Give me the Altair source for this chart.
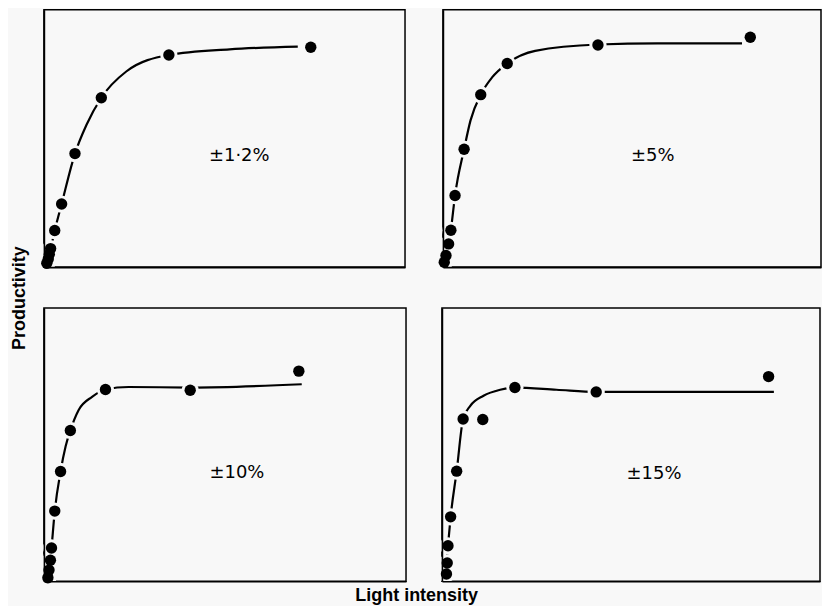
import altair as alt
import pandas as pd

BG = "#f8f8f8"

labels = ["±1·2%", "±5%", "±10%", "±15%"]
label_x = [54.1, 55.5, 53.3, 56.1]
label_y = [43.0, 43.2, 39.7, 39.4]

# measured points (light intensity, productivity), arbitrary 0-100 units
p1_x = [73.9, 34.6, 15.9, 8.6, 4.9, 3.0, 1.85, 1.5, 1.2, 0.8]
p1_y = [85.4, 82.4, 65.8, 44.1, 24.5, 14.2, 7.2, 5.0, 3.1, 1.5]
c1_x = [1.2, 3.0, 4.9, 8.6, 11.8, 15.9, 22.8, 34.6, 51.4, 70.3]
c1_y = [2.3, 14.2, 24.5, 44.1, 55.3, 65.8, 76.0, 82.4, 84.6, 85.7]

p2_x = [81.3, 41.0, 17.0, 10.0, 5.6, 3.2, 2.1, 1.5, 0.8, 0.35]
p2_y = [89.3, 86.3, 79.1, 67.0, 45.8, 27.8, 14.3, 9.0, 4.5, 1.9]
c2_x = [0.8, 2.1, 3.2, 5.6, 7.3, 10.0, 13.0, 17.0, 24.4, 41.0, 56.8, 79.1]
c2_y = [1.9, 14.3, 27.8, 45.8, 57.0, 67.0, 73.7, 79.1, 84.0, 86.5, 86.9, 86.9]

p3_x = [70.4, 40.4, 17.0, 7.3, 4.6, 3.0, 2.1, 1.8, 1.4, 1.1]
p3_y = [76.9, 69.9, 70.2, 55.2, 40.2, 25.7, 12.2, 7.7, 4.1, 1.3]
c3_x = [1.4, 2.1, 3.0, 4.6, 6.0, 7.3, 9.6, 13.3, 17.0, 23.4, 40.4, 71.2]
c3_y = [2.3, 12.2, 25.7, 40.2, 49.4, 55.2, 62.7, 67.5, 70.2, 71.1, 70.9, 72.1]

p4_x = [86.4, 40.8, 19.3, 10.8, 5.6, 3.9, 2.3, 1.6, 1.4, 1.2]
p4_y = [74.9, 69.3, 70.9, 59.2, 59.4, 40.3, 23.6, 13.0, 6.7, 2.7]
c4_x = [1.0, 1.6, 2.3, 3.9, 5.6, 7.5, 11.0, 15.4, 19.3, 30.3, 40.8, 87.8]
c4_y = [3.6, 13.0, 23.6, 40.3, 59.4, 64.2, 67.9, 70.1, 70.9, 70.1, 69.3, 69.3]


def panel(px, py, cx, cy, label, lx, ly, w, h):
    pts = pd.DataFrame({"x": px, "y": py})
    crv = pd.DataFrame({"x": cx, "y": cy})
    lab = pd.DataFrame({"x": [lx], "y": [ly], "t": [label]})
    xs = alt.Scale(domain=[0, 100], nice=False, zero=False)
    ys = alt.Scale(domain=[0, 100], nice=False, zero=False)
    ax = alt.Axis(labels=False, ticks=False, title=None, grid=False,
                  domainColor="black", domainWidth=1.6, zindex=1)
    X = alt.X("x:Q", scale=xs, axis=ax)
    Y = alt.Y("y:Q", scale=ys, axis=ax)
    line = alt.Chart(crv).mark_line(color="black", strokeWidth=2.2,
                                    interpolate="monotone").encode(x=X, y=Y)
    halo = alt.Chart(pts).mark_circle(color=BG, opacity=1, size=300).encode(x=X, y=Y)
    dots = alt.Chart(pts).mark_circle(color="black", opacity=1, size=130).encode(x=X, y=Y)
    text = alt.Chart(lab).mark_text(font="DejaVu Sans", fontSize=18, color="black",
                                    align="center", baseline="middle").encode(
        x=X, y=Y, text="t:N")
    return alt.layer(line, halo, dots, text).properties(width=w, height=h)


c1 = panel(p1_x, p1_y, c1_x, c1_y, labels[0], label_x[0], label_y[0], 362, 258)
c2 = panel(p2_x, p2_y, c2_x, c2_y, labels[1], label_x[1], label_y[1], 379, 258)
c3 = panel(p3_x, p3_y, c3_x, c3_y, labels[2], label_x[2], label_y[2], 363, 274)
c4 = panel(p4_x, p4_y, c4_x, c4_y, labels[3], label_x[3], label_y[3], 379, 274)

grid = alt.vconcat(
    alt.hconcat(c1, c2, spacing=28),
    alt.hconcat(c3, c4, spacing=30),
    spacing=34,
).properties(title=alt.TitleParams("Productivity", orient="left", anchor="middle",
                                   font="Liberation Sans", fontSize=18, fontWeight="bold",
                                   color="black", offset=8))

chart = alt.vconcat(grid).properties(
    title=alt.TitleParams("Light intensity", orient="bottom", anchor="middle",
                          font="Liberation Sans", fontSize=18, fontWeight="bold",
                          color="black", offset=0),
    padding={"left": 3, "top": 0, "right": 0, "bottom": 0},
    background=BG,
).configure_view(stroke="black", strokeWidth=1.5, fill=BG)

chart.save("out.html", embed_options={"renderer": "svg", "actions": False})
